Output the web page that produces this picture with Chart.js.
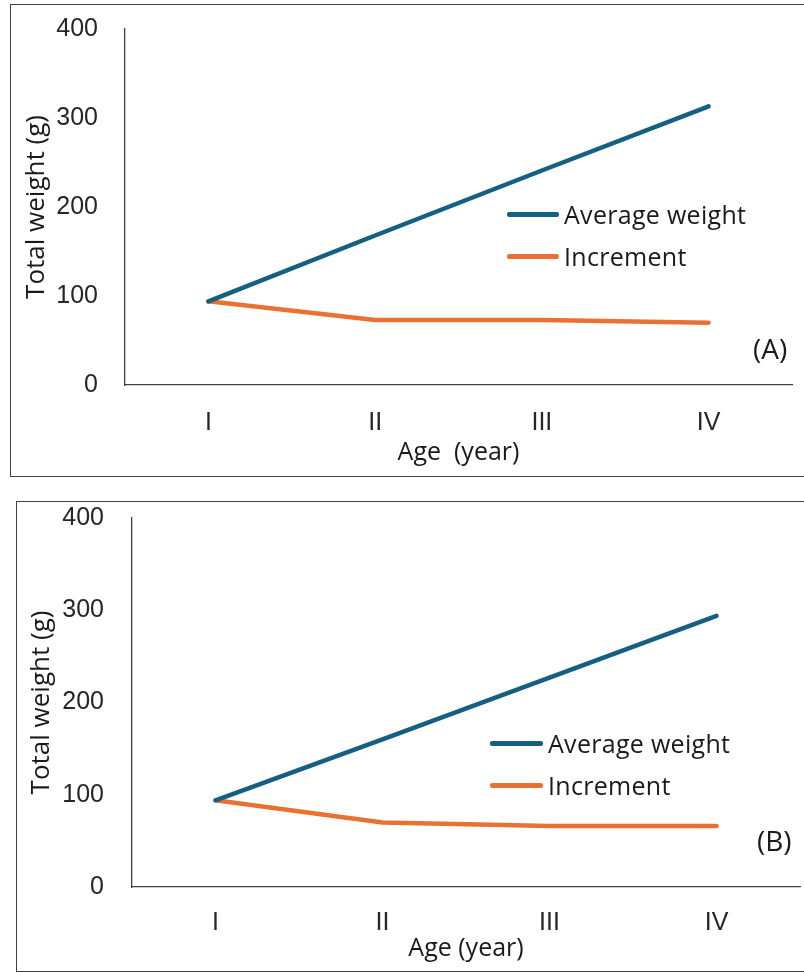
<!DOCTYPE html>
<html>
<head>
<meta charset="utf-8">
<title>Total weight by age</title>
<script src="https://cdn.jsdelivr.net/npm/chart.js@4/dist/chart.umd.min.js"></script>
<style>
  html, body { margin: 0; padding: 0; background: #fff; overflow: hidden; }
  body { width: 804px; height: 972px; position: relative; }
  .frame { position: absolute; border: 1.5px solid #404040; box-sizing: border-box; }
  canvas { position: absolute; left: 0; }
  .legend-row { position: absolute; height: 34px; }
  .legend-row .swatch { position: absolute; top: 15px; height: 4.5px; border-radius: 2px; }
  .legend-row .name { position: absolute; top: 0; line-height: 34px; white-space: nowrap;
    font-family: 'Open Sans', sans-serif; font-size: 25px; color: #1a1a1a; letter-spacing: 0.3px; }
  .tag { position: absolute; line-height: 40px; font-family: 'Open Sans', sans-serif; font-size: 28px; color: #1a1a1a; }
</style>
</head>
<body>

<div class="frame" style="left:10px; top:4px; width:900px; height:473px;"></div>
<div class="frame" style="left:16px; top:501px; width:900px; height:471px;"></div>

<canvas id="chartA" width="804" height="480" style="top:0"></canvas>
<canvas id="chartB" width="804" height="482" style="top:490px"></canvas>

<div id="legendA"></div>
<div id="legendB"></div>
<div class="tag" style="left:753px; top:328px;">(A)</div>
<div class="tag" style="left:757px; top:820px;">(B)</div>

<script>
// Age classes and weights (g)
const ageLabels = ['I', 'II', 'III', 'IV'];
const seriesNames = ['Average weight', 'Increment'];
const seriesColors = ['#156082', '#E97132'];

const avgWeightA = [94, 168, 241, 313];
const incrementA = [94, 73, 73, 70];

const avgWeightB = [94, 160, 227, 294];
const incrementB = [94, 70, 66, 66];

const yMin = 0, yMax = 400, yStep = 100;

const tickFont = { family: "'Liberation Sans', Arial, sans-serif", size: 25 };
const titleFont = { family: "'Open Sans', sans-serif", size: 25 };
const yTitleFont = { family: "'Open Sans', sans-serif", size: 26 };

// Builds one panel; layout numbers fix the plot box inside the canvas
function buildChart(canvasId, avg, inc, box) {
    const ctx = document.getElementById(canvasId).getContext('2d');
    return new Chart(ctx, {
        type: 'line',
        data: {
            labels: ageLabels,
            datasets: [avg, inc].map((values, i) => ({
                label: seriesNames[i],
                data: values,
                borderColor: seriesColors[i],
                backgroundColor: seriesColors[i],
                borderWidth: 4.5,
                borderCapStyle: 'round',
                borderJoinStyle: 'round',
                pointRadius: 0,
                tension: 0,
                fill: false
            }))
        },
        options: {
            responsive: false,
            animation: false,
            events: [],
            layout: { padding: { top: box.top, right: box.right, left: 0, bottom: 0 } },
            plugins: {
                legend: { display: false },
                tooltip: { enabled: false }
            },
            scales: {
                x: {
                    type: 'category',
                    offset: true,
                    grid: { display: false, drawTicks: false },
                    border: { display: true, color: '#404040', width: 1.3 },
                    ticks: { color: '#262626', font: tickFont, padding: box.xTickPad },
                    title: {
                        display: true,
                        text: box.xTitle,
                        color: '#1a1a1a',
                        font: titleFont,
                        padding: { top: 0, bottom: box.xTitlePad }
                    },
                    afterFit: (scale) => {
                        scale.height = box.xHeight;
                        scale.paddingLeft = 0;
                        scale.paddingRight = 0;
                    }
                },
                y: {
                    min: yMin,
                    max: yMax,
                    grid: { display: false, drawTicks: false },
                    border: { display: true, color: '#404040', width: 1.3 },
                    ticks: { stepSize: yStep, color: '#262626', font: tickFont, padding: box.yTickPad },
                    title: {
                        display: true,
                        text: 'Total weight (g)',
                        color: '#1a1a1a',
                        font: yTitleFont,
                        padding: { top: box.yTitlePad, bottom: 0 }
                    },
                    afterFit: (scale) => {
                        scale.width = box.left;
                        scale.paddingTop = 0;
                        scale.paddingBottom = 0;
                    }
                }
            }
        }
    });
}

// Legend drawn as html next to the lines, built from the datasets
function buildLegend(chart, holderId, pos) {
    const holder = document.getElementById(holderId);
    chart.data.datasets.forEach((ds, i) => {
        const row = document.createElement('div');
        row.className = 'legend-row';
        row.style.left = pos.x + 'px';
        row.style.top = (pos.y + i * pos.gap - 17) + 'px';
        const swatch = document.createElement('div');
        swatch.className = 'swatch';
        swatch.style.left = '0px';
        swatch.style.width = pos.swatch + 'px';
        swatch.style.background = ds.borderColor;
        const name = document.createElement('div');
        name.className = 'name';
        name.style.left = (pos.swatch + 5) + 'px';
        name.textContent = ds.label;
        row.appendChild(swatch);
        row.appendChild(name);
        holder.appendChild(row);
    });
}

const chartA = buildChart('chartA', avgWeightA, incrementA, {
    top: 29, right: 12, left: 125, xHeight: 95,
    xTickPad: 23, yTickPad: 27,
    xTitle: 'Age  (year)', xTitlePad: 12, yTitlePad: 21
});

const chartB = buildChart('chartB', avgWeightB, incrementB, {
    top: 28, right: 4, left: 132, xHeight: 85,
    xTickPad: 21, yTickPad: 28,
    xTitle: 'Age (year)', xTitlePad: 8, yTitlePad: 26
});

buildLegend(chartA, 'legendA', { x: 507, y: 214, gap: 42, swatch: 52 });
buildLegend(chartB, 'legendB', { x: 490, y: 743, gap: 42, swatch: 53 });
</script>
</body>
</html>
